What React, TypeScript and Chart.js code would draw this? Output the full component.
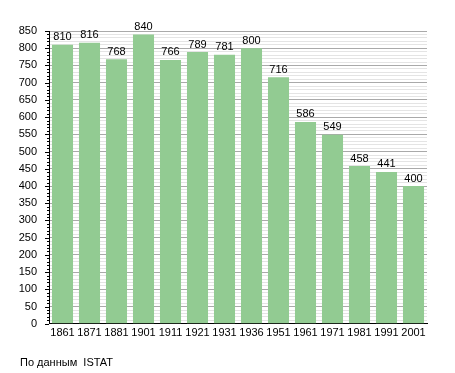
import React, { useEffect, useRef } from "react";
import { Chart, registerables } from "chart.js";

Chart.register(...registerables);

const years = ["1861", "1871", "1881", "1901", "1911", "1921", "1931", "1936", "1951", "1961", "1971", "1981", "1991", "2001"];
const population = [810, 816, 768, 840, 766, 789, 781, 800, 716, 586, 549, 458, 441, 400];
const yMax = 850;
const yStep = 10;
const caption = "По данным  ISTAT";

const FONT = "'Liberation Sans', Arial, sans-serif";

const valueLabels = {
  id: "valueLabels",
  afterDatasetsDraw(chart: any) {
    const ctx = chart.ctx;
    const meta = chart.getDatasetMeta(0);
    ctx.save();
    ctx.font = `11px ${FONT}`;
    ctx.fillStyle = "#000";
    ctx.textAlign = "center";
    ctx.textBaseline = "bottom";
    meta.data.forEach((bar: any, i: number) => {
      ctx.fillText(String(chart.data.datasets[0].data[i]), bar.x, bar.y - 2);
    });
    ctx.restore();
  },
};

const yTickMarks = {
  id: "yTickMarks",
  afterDraw(chart: any) {
    const ctx = chart.ctx;
    const scale = chart.scales.y;
    const x0 = scale.right;
    ctx.save();
    ctx.strokeStyle = "#000";
    ctx.lineWidth = 1;
    scale.ticks.forEach((t: any) => {
      const y = Math.round(scale.getPixelForValue(t.value)) + 0.5;
      const len = t.value % 50 === 0 ? 4 : 2;
      ctx.beginPath();
      ctx.moveTo(x0 - len, y);
      ctx.lineTo(x0, y);
      ctx.stroke();
    });
    ctx.restore();
  },
};

export default function App() {
  const ref = useRef<HTMLCanvasElement | null>(null);
  useEffect(() => {
    if (!ref.current) return;
    const chart = new Chart(ref.current, {
      type: "bar",
      data: {
        labels: years,
        datasets: [
          {
            data: population,
            backgroundColor: "#92cb92",
            borderWidth: 0,
            barPercentage: 0.78,
            categoryPercentage: 1,
          },
        ],
      },
      options: {
        responsive: false,
        animation: false,
        layout: { padding: { top: 31, left: 18, right: 28, bottom: 30 } },
        plugins: { legend: { display: false }, tooltip: { enabled: false }, title: { display: false } },
        scales: {
          x: {
            grid: { display: false, drawTicks: false },
            border: { display: true, color: "#000", width: 1 },
            ticks: { color: "#000", font: { family: FONT, size: 11 }, padding: 3, autoSkip: false, maxRotation: 0 },
          },
          y: {
            min: 0,
            max: yMax,
            afterFit: (s: any) => {
              s.width = 31;
            },
            grid: {
              drawTicks: false,
              color: (c: any) => (c.tick && c.tick.value % 50 === 0 ? "#a9a9a9" : "#e4e4e4"),
              lineWidth: 1,
            },
            border: { display: true, color: "#000", width: 1 },
            ticks: {
              stepSize: yStep,
              autoSkip: false,
              color: "#000",
              font: { family: FONT, size: 11 },
              padding: 12,
              callback: (v: any) => (Number(v) % 50 === 0 ? String(v) : ""),
            },
          },
        },
      },
      plugins: [valueLabels, yTickMarks],
    });
    return () => chart.destroy();
  }, []);
  return (
    <div style={{ position: "fixed", left: 0, top: 0, width: 455, height: 373, background: "#fff" }}>
      <canvas ref={ref} width={455} height={373} style={{ display: "block" }} />
      <div
        style={{
          position: "absolute",
          left: 20,
          top: 356,
          fontFamily: FONT,
          fontSize: 11,
          color: "#000",
          whiteSpace: "pre",
          lineHeight: "13px",
        }}
      >
        {caption}
      </div>
    </div>
  );
}
